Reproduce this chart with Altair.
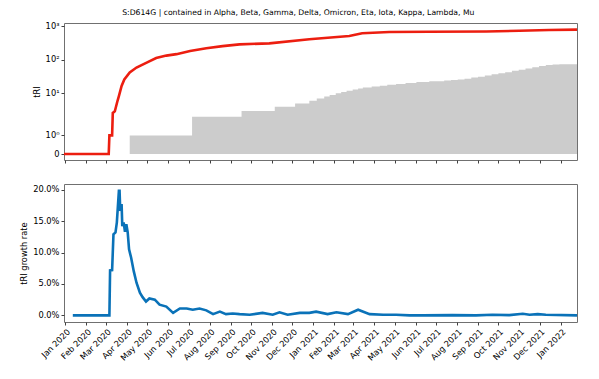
import altair as alt
import pandas as pd
import math

TITLE = "S:D614G | contained in Alpha, Beta, Gamma, Delta, Omicron, Eta, Iota, Kappa, Lambda, Mu"

# tRI (red line)
red_dates = ["2019-12-30", "2020-03-05", "2020-03-06", "2020-03-10", "2020-03-11", "2020-03-14",
             "2020-03-16", "2020-03-18", "2020-03-20", "2020-03-24", "2020-03-28", "2020-04-05",
             "2020-04-15", "2020-04-30", "2020-05-14", "2020-05-29", "2020-06-13", "2020-07-03",
             "2020-07-27", "2020-08-20", "2020-09-14", "2020-10-28", "2020-12-26", "2021-02-23",
             "2021-03-14", "2021-04-23", "2021-06-21", "2021-09-13", "2021-11-01", "2021-12-15",
             "2022-01-25"]
red_vals = [0, 0, 1, 1, 2.6, 2.9, 4.2, 6, 8.3, 16.6, 26, 42, 59, 83, 113, 134, 148, 185, 222, 257,
            290, 310, 410, 515, 620, 677, 690, 700, 740, 775, 800]

# grey area
gray_dates = ["2020-03-01", "2020-04-05", "2020-07-06", "2020-09-17", "2020-11-05", "2020-12-05",
              "2020-12-26", "2021-01-06", "2021-01-17", "2021-01-25", "2021-02-03", "2021-02-11",
              "2021-02-19", "2021-02-28", "2021-03-08", "2021-03-15", "2021-03-28", "2021-04-09",
              "2021-04-20", "2021-05-03", "2021-05-17", "2021-06-02", "2021-06-21", "2021-07-13",
              "2021-07-23", "2021-08-02", "2021-08-12", "2021-08-22", "2021-09-01", "2021-09-11",
              "2021-09-21", "2021-10-01", "2021-10-11", "2021-10-21", "2021-10-31", "2021-11-10",
              "2021-11-20", "2021-11-30", "2021-12-10", "2021-12-20", "2021-12-30", "2022-01-25"]
gray_vals = [0, 1, 2, 3, 4, 5, 6, 7, 8, 9, 10, 11, 12, 13, 14, 15, 16, 17, 18, 19,
             20.5, 22, 23, 24, 25, 26, 27.5, 29.5, 31.5, 34, 37, 40, 43, 47, 51, 55, 60, 65, 70, 73,
             74, 74]

# growth rate (percent)
g_dates = ["2020-01-12", "2020-03-06", "2020-03-07", "2020-03-10", "2020-03-12", "2020-03-15",
           "2020-03-17", "2020-03-20", "2020-03-21", "2020-03-22", "2020-03-24", "2020-03-25",
           "2020-03-27", "2020-03-29", "2020-03-31", "2020-04-02", "2020-04-04", "2020-04-07",
           "2020-04-11", "2020-04-15", "2020-04-20", "2020-04-24", "2020-04-29", "2020-05-04",
           "2020-05-12", "2020-05-19", "2020-05-29", "2020-06-08", "2020-06-18", "2020-06-28",
           "2020-07-07", "2020-07-17", "2020-07-27", "2020-08-06", "2020-08-16", "2020-08-25",
           "2020-09-04", "2020-09-14", "2020-09-29", "2020-10-18", "2020-11-02", "2020-11-12",
           "2020-11-24", "2020-12-12", "2020-12-26", "2021-01-05", "2021-01-22", "2021-02-04",
           "2021-02-21", "2021-03-08", "2021-03-25", "2021-04-14", "2021-05-03", "2021-05-23",
           "2021-06-11", "2021-07-25", "2021-08-29", "2021-09-22", "2021-10-17", "2021-11-06",
           "2021-11-16", "2021-11-28", "2021-12-10", "2022-01-25"]
g_vals = [0, 0, 7.15, 7.2, 12.9, 13.2, 14.8, 19.8, 19.8, 16.6, 17.7, 14.2, 14.8, 13.3, 14.5, 13.2,
          10.5, 9.2, 7.0, 5.2, 3.6, 2.9, 2.2, 2.7, 2.5, 1.7, 1.4, 0.4, 1.1, 1.1, 0.9, 1.1, 0.8,
          0.2, 0.6, 0.2, 0.3, 0.2, 0.1, 0.4, 0.1, 0.5, 0.1, 0.4, 0.4, 0.6, 0.2, 0.5, 0.2, 0.9,
          0.2, 0.1, 0.1, 0.0, 0.0, 0.05, 0.0, 0.1, 0.05, 0.25, 0.1, 0.2, 0.1, 0.0]

y_tick_labels = ["0", "10⁰", "10¹", "10²", "10³"]
y_tick_raw = [0, 1, 10, 100, 1000]
pct_ticks = [0, 0.05, 0.1, 0.15, 0.2]


def ms(d):
    return int(pd.Timestamp(d, tz="UTC").value // 10**6)


# symlog (linthresh=2, linscale=1) transform, as in the reference axis
def symlog(v):
    return v / 2 / 0.9 if v <= 2 else 1 / 0.9 + math.log10(v / 2)


SYMLOG_EXPR = "datum.v <= 2 ? datum.v / 2 / 0.9 : 1 / 0.9 + log(datum.v / 2) / LN10"

red_df = pd.DataFrame({"date": red_dates, "v": red_vals})
gray_df = pd.DataFrame({"date": gray_dates, "v": gray_vals})
g_df = pd.DataFrame({"date": g_dates, "rate": [x / 100 for x in g_vals]})

month_ticks = [ms(d) for d in pd.date_range("2020-01-01", "2022-01-01", freq="MS")]
xdom = [ms("2019-12-30"), ms("2022-01-25")]

W, H1, H2 = 513, 137, 138
FONT = "DejaVu Sans"
FS = 8.3

xscale = alt.Scale(type="utc", domain=xdom)
top_x_axis = alt.Axis(values=month_ticks, labels=False, title=None, ticks=True, tickSize=3,
                      grid=False, minExtent=0, domain=False)
bot_x_axis = alt.Axis(values=month_ticks, format="%b %Y", title=None, labelAngle=-45,
                      labelAlign="right", labelBaseline="top", labelOverlap=False,
                      labelFlush=False, tickSize=3, grid=False, domain=False)

tick_pos = [symlog(v) for v in y_tick_raw]
label_expr = ("datum.value < 0.3 ? '%s' : datum.value < 1 ? '%s' : datum.value < 2 ? '%s' : "
              "datum.value < 3 ? '%s' : '%s'") % tuple(y_tick_labels)

yscale_top = alt.Scale(domain=[-0.179, 3.91], nice=False, zero=False)
top_y_axis = alt.Axis(values=tick_pos, labelExpr=label_expr, title="tRI", grid=False,
                      tickSize=3, domain=False)

area = alt.Chart(gray_df).transform_calculate(t=SYMLOG_EXPR).mark_area(
    color="#cccccc", interpolate="step-after", clip=True
).encode(
    x=alt.X("date:T", scale=xscale, axis=top_x_axis),
    y=alt.Y("t:Q", scale=yscale_top, axis=top_y_axis),
)

red = alt.Chart(red_df).transform_calculate(t=SYMLOG_EXPR).mark_line(
    color="#ec1e10", strokeWidth=2.6, clip=True
).encode(
    x=alt.X("date:T", scale=xscale, axis=top_x_axis),
    y=alt.Y("t:Q", scale=yscale_top, axis=top_y_axis),
)

top = alt.layer(area, red).properties(width=W, height=H1)

bottom = alt.Chart(g_df).mark_line(color="#0a72b8", strokeWidth=2.6, clip=True).encode(
    x=alt.X("date:T", scale=xscale, axis=bot_x_axis),
    y=alt.Y("rate:Q", scale=alt.Scale(domain=[-0.0105, 0.209], nice=False, zero=False),
            axis=alt.Axis(format=".1%", values=pct_ticks,
                          title="tRI growth rate", grid=False, tickSize=3, domain=False)),
).properties(width=W, height=H2)

chart = alt.vconcat(
    top, bottom, spacing=19,
    title=alt.Title(TITLE, font=FONT, fontSize=7.7, fontWeight="normal", anchor="middle",
                    offset=4.4, color="#000000"),
).properties(
    padding={"left": 11, "top": 0, "right": 5, "bottom": 5}
).configure_view(
    stroke="#707070", strokeWidth=1
).configure_axis(
    labelFont=FONT, titleFont=FONT, labelFontSize=FS, titleFontSize=FS,
    titleFontWeight="normal", labelColor="#000000", titleColor="#000000",
    tickColor="#404040", labelPadding=2, titlePadding=4,
).configure_concat(spacing=19)

chart.save("out.html", embed_options={"renderer": "svg", "actions": False})
